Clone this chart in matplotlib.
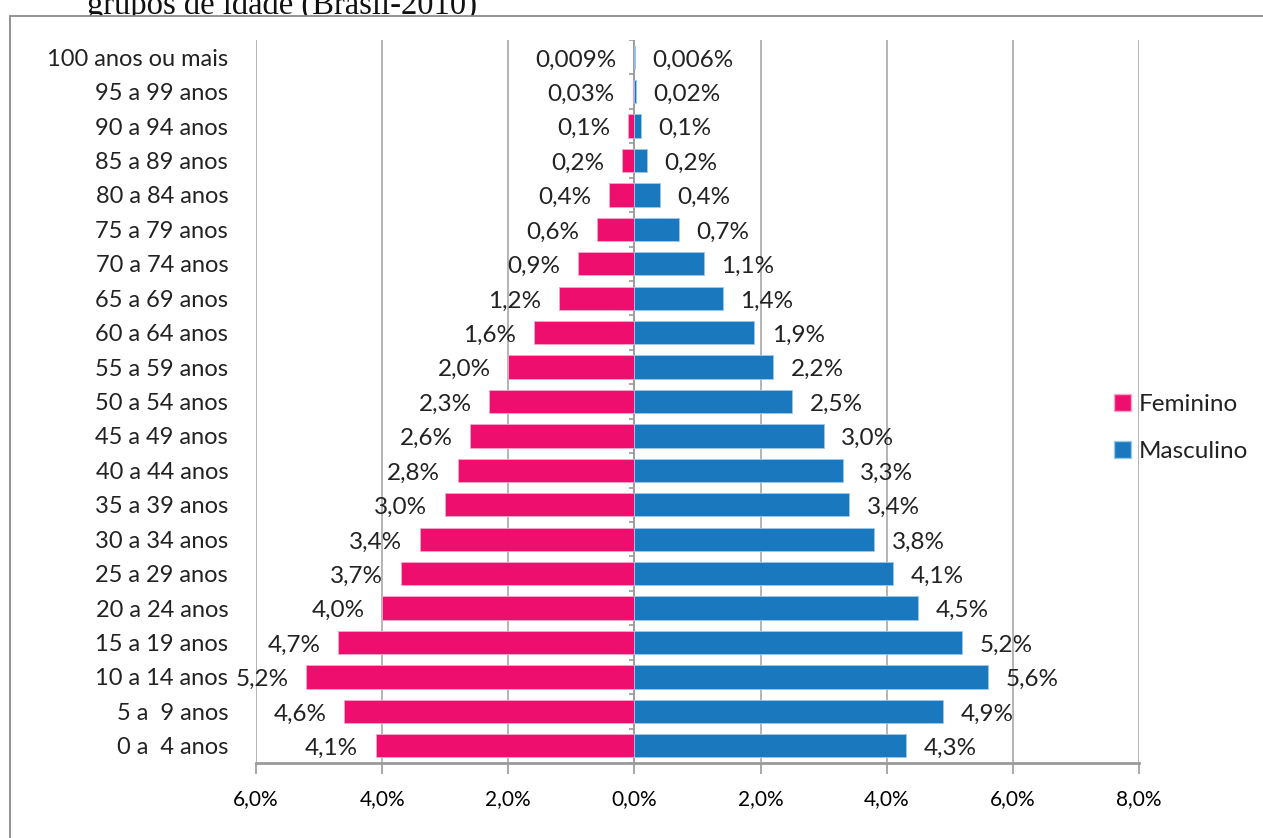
import matplotlib.pyplot as plt
from matplotlib.patches import Rectangle, Patch
import numpy as np

# data (percent of total population, Brasil 2010)
faixas = ['0 a  4 anos', '5 a  9 anos', '10 a 14 anos', '15 a 19 anos', '20 a 24 anos',
          '25 a 29 anos', '30 a 34 anos', '35 a 39 anos', '40 a 44 anos', '45 a 49 anos',
          '50 a 54 anos', '55 a 59 anos', '60 a 64 anos', '65 a 69 anos', '70 a 74 anos',
          '75 a 79 anos', '80 a 84 anos', '85 a 89 anos', '90 a 94 anos', '95 a 99 anos',
          '100 anos ou mais']
feminino = [4.1, 4.6, 5.2, 4.7, 4.0, 3.7, 3.4, 3.0, 2.8, 2.6, 2.3, 2.0, 1.6, 1.2,
            0.9, 0.6, 0.4, 0.2, 0.1, 0.03, 0.009]
masculino = [4.3, 4.9, 5.6, 5.2, 4.5, 4.1, 3.8, 3.4, 3.3, 3.0, 2.5, 2.2, 1.9, 1.4,
             1.1, 0.7, 0.4, 0.2, 0.1, 0.02, 0.006]
xticks = [-6, -4, -2, 0, 2, 4, 6, 8]

cor_f = '#EE0E6E'
cor_m = '#1A78BE'
fonte = ['Lato', 'DejaVu Sans']


def rotulo(v):
    s = f"{v:.1f}" if v >= 0.1 else f"{v:g}"
    return s.replace('.', ',') + '%'


W, H = 1263, 838
fig = plt.figure(figsize=(W / 100, H / 100), dpi=100, facecolor='white')

# cut-off caption above the chart and the chart frame
fig.text(87 / W, 1 - 14 / H, 'grupos de idade (Brasil-2010)', va='baseline',
         fontsize=23.5, family='Liberation Serif', color='#111111', zorder=0.5)
fig.patches.append(Rectangle((10 / W, -0.1), 2, 1.1 - 16 / H, transform=fig.transFigure,
                             facecolor='white', edgecolor='#8a8a8a', lw=1.3, zorder=1))

ax = fig.add_axes([256 / W, (H - 763) / H, (1139 - 256) / W, (763 - 40) / H])
ax.set_zorder(2)

y = np.arange(len(faixas))
neg = [-v for v in feminino]
ax.barh(y, neg, height=0.68, color=cor_f, edgecolor='#f7a8c8', lw=0.6, zorder=3)
ax.barh(y, masculino, height=0.68, color=cor_m, edgecolor='#9cc8ea', lw=0.6, zorder=3)

for yi, v in zip(y, feminino):
    ax.text(-v - 0.28, yi - 0.08, rotulo(v), ha='right', va='center',
            fontsize=17.5, family=fonte, color='#222222', zorder=4)
for yi, v in zip(y, masculino):
    ax.text(v + 0.28, yi - 0.08, rotulo(v), ha='left', va='center',
            fontsize=17.5, family=fonte, color='#222222', zorder=4)

ax.set_xlim(-6, 8)
ax.set_ylim(-0.5, len(faixas) - 0.5)

ax.set_xticks(xticks)
ax.set_xticklabels([f"{abs(t):.1f}".replace('.', ',') + '%' for t in xticks],
                   family=['Liberation Sans Narrow', 'Lato'], fontsize=15)
ax.tick_params(axis='x', direction='out', length=8, width=1.2, color='#9a9a9a', pad=11)

ax.set_yticks(y)
ax.set_yticklabels(faixas, family=fonte, fontsize=17, color='#222222')
ax.tick_params(axis='y', length=0, pad=20)

ax.grid(axis='x', color='#a8a8a8', lw=1.2, zorder=0)
ax.axvline(0, color='#9a9a9a', lw=1.2, zorder=2)
# small category ticks on the central axis
fronteiras = np.arange(len(faixas) + 1) - 0.5
ax.hlines(fronteiras, -0.09, 0, color='#9a9a9a', lw=1.2, zorder=2)

for s in ['top', 'right', 'left']:
    ax.spines[s].set_visible(False)
ax.spines['bottom'].set_color('#9a9a9a')
ax.spines['bottom'].set_linewidth(2)

handles = [Patch(facecolor=cor_f, edgecolor='#f7a8c8', label='Feminino'),
           Patch(facecolor=cor_m, edgecolor='#9cc8ea', label='Masculino')]
leg = ax.legend(handles=handles, loc='center left', bbox_to_anchor=(0.947, 0.463),
                frameon=False, handlelength=0.7, handleheight=0.7,
                handletextpad=0.3, labelspacing=1.05, prop={'family': fonte, 'size': 17.5})
for t in leg.get_texts():
    t.set_color('#222222')

fig.savefig('out.png', dpi=100)
